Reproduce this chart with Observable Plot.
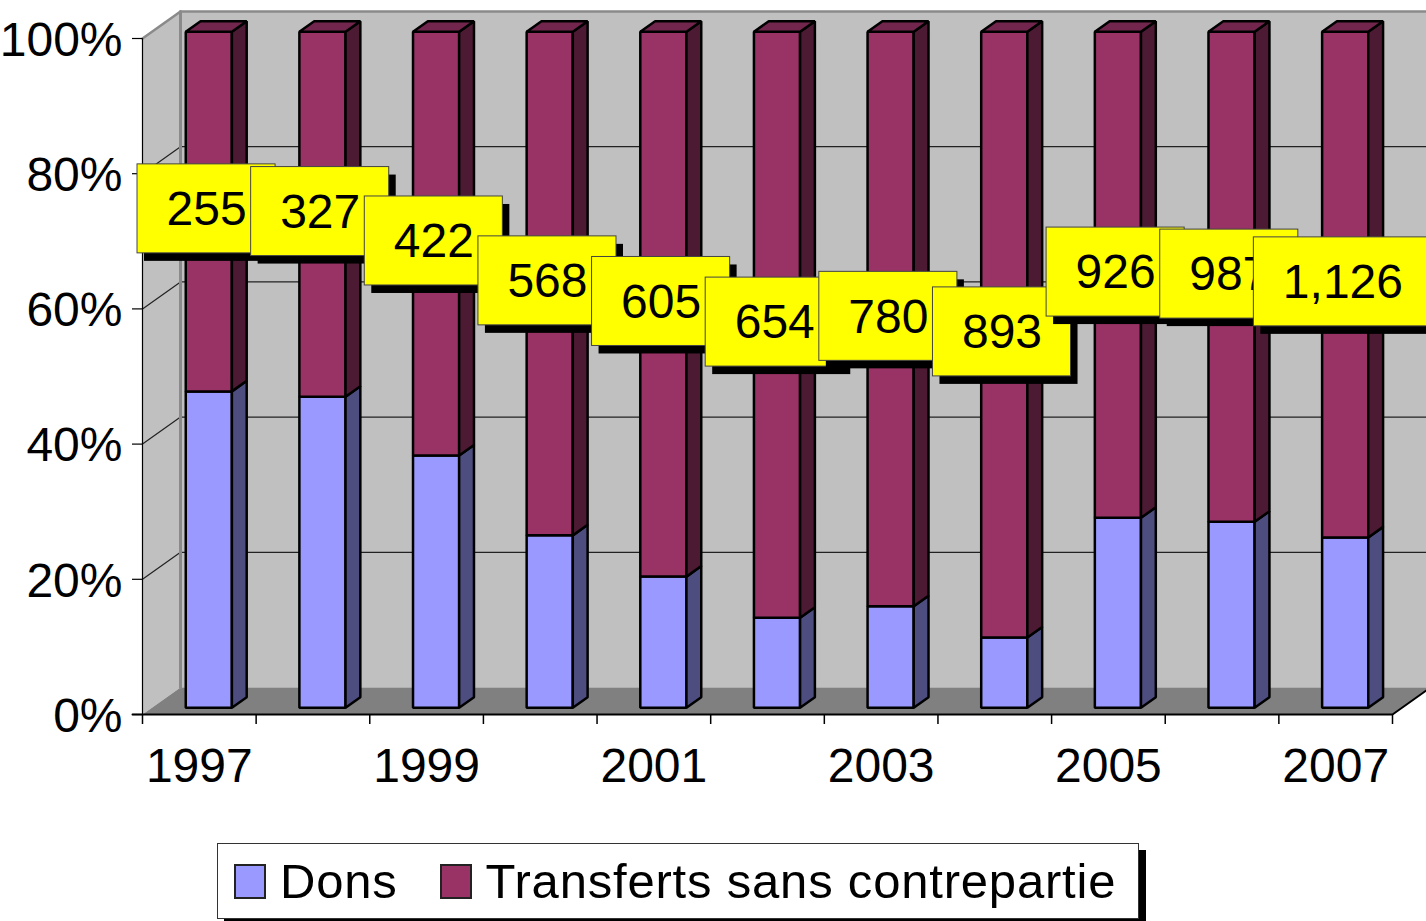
<!DOCTYPE html>
<html>
<head>
<meta charset="utf-8">
<script src="https://cdn.jsdelivr.net/npm/d3@7"></script>
<script src="https://cdn.jsdelivr.net/npm/@observablehq/plot@0.6"></script>
<style>
  html, body { margin: 0; padding: 0; background: #fff; overflow: hidden; width: 1426px; height: 921px; }
  #chart { position: absolute; left: 0; top: 0; }
  #legend {
    position: absolute; left: 217px; top: 843px; width: 922px; height: 76px;
    border: 1px solid #333; background: #fff; box-shadow: 7px 7px 0 #000;
    display: flex; align-items: center; box-sizing: border-box; padding-left: 16px;
    font-family: "Liberation Sans", Arial, sans-serif; font-size: 49px; letter-spacing: 0.8px; color: #000;
    white-space: nowrap; overflow: hidden;
  }
  .sw { width: 28px; height: 31px; border: 2px solid #222; margin-right: 14px; flex-shrink: 0; }
  .item { display: flex; align-items: center; margin-right: 42px; flex-shrink: 0; white-space: nowrap; }
</style>
</head>
<body>
<div id="chart"></div>
<div id="legend"></div>
<script>
// ---- Data ----
const years = [1997, 1998, 1999, 2000, 2001, 2002, 2003, 2004, 2005, 2006, 2007];
const dons = [46.8, 46.0, 37.3, 25.5, 19.4, 13.3, 15.0, 10.4, 28.1, 27.5, 25.2]; // % share
const totals = [255, 327, 422, 568, 605, 654, 780, 893, 926, 987, 1126];
const yTicks = [0, 20, 40, 60, 80, 100];
const xLabelYears = [1997, 1999, 2001, 2003, 2005, 2007];
const seriesNames = ["Dons", "Transferts sans contrepartie"];
const transferts = dons.map(d => 100 - d);

// ---- Layout / style constants ----
const W = 1426, H = 835, ML = 142, MR = 34, MT = 38, MB = 121;
const N = years.length;
const PX = (W - ML - MR) / N;      // px per category unit
const PY = (H - MT - MB) / 100;    // px per percent
const DX = 38 / PX, DY = 27 / PY;  // full depth offset in data units
const d0 = 0.25, d1 = 0.64;        // bar depth placement
const bl = 0.297, br = 0.703;      // bar extent within slot
const colors = {
  donsFront: "#9999ff", donsSide: "#4d4d80",
  trFront: "#993366", trSide: "#4d1a33", trTop: "#73264d",
  wall: "#c0c0c0", floor: "#808080"
};

function poly(id, pts) { return pts.map(([x, y]) => ({id, x, y})); }

// walls
const leftWall = poly("lw", [[0, 0], [DX, DY], [DX, 100 + DY], [0, 100]]);
const backWall = poly("bw", [[DX, DY], [N + DX, DY], [N + DX, 100 + DY], [DX, 100 + DY]]);
const floor = poly("fl", [[0, 0], [N, 0], [N + DX, DY], [DX, DY]]);

// bar faces
const donsFront = [], donsSide = [], trFront = [], trSide = [], trTop = [];
years.forEach((yr, i) => {
  const xl = i + bl, xr = i + br;
  const front = (lo, hi) => [[xl + d0 * DX, lo + d0 * DY], [xr + d0 * DX, lo + d0 * DY], [xr + d0 * DX, hi + d0 * DY], [xl + d0 * DX, hi + d0 * DY]];
  const side = (lo, hi) => [[xr + d0 * DX, lo + d0 * DY], [xr + d1 * DX, lo + d1 * DY], [xr + d1 * DX, hi + d1 * DY], [xr + d0 * DX, hi + d0 * DY]];
  const top = v => [[xl + d0 * DX, v + d0 * DY], [xr + d0 * DX, v + d0 * DY], [xr + d1 * DX, v + d1 * DY], [xl + d1 * DX, v + d1 * DY]];
  const dv = dons[i], tv = dv + transferts[i];
  donsFront.push(...poly("df" + i, front(0, dv)));
  donsSide.push(...poly("ds" + i, side(0, dv)));
  trFront.push(...poly("tf" + i, front(dv, tv)));
  trSide.push(...poly("ts" + i, side(dv, tv)));
  trTop.push(...poly("tt" + i, top(tv)));
});

const face = (data, fill, sw = 2.5) => Plot.line(data, {
  x: "x", y: "y", z: "id", fill, stroke: "#000", strokeWidth: sw,
  curve: "linear-closed", strokeLinejoin: "miter"
});

// grid lines on back wall and left wall
const grid = [];
[20, 40, 60, 80].forEach(v => {
  grid.push(...poly("g" + v, [[0, v], [DX, v + DY], [N + DX, v + DY]]));
});
const wallEdges = poly("we", [[0, 100], [DX, 100 + DY], [N + DX, 100 + DY]]);
const wallEdgeV = poly("wv", [[DX, DY], [DX, 100 + DY]]);

// data labels
const fmt = d3.format(",");
const charW = c => (c === "," ? 0.278 : 0.556) * 48;
const labelMarks = [];
years.forEach((yr, i) => {
  const text = fmt(totals[i]);
  const tw = [...text].reduce((s, c) => s + charW(c), 0);
  const hw = (tw / 2 + 29) / PX, hh = 44.5 / PY;
  const cx = i + 0.5 + d0 * DX - 0.02;
  const cy = (dons[i] + 100) / 2 + 0.35 * DY;
  const lab = [{cx, cy, text}];
  labelMarks.push(
    Plot.rect(lab, {x1: d => d.cx - hw, x2: d => d.cx + hw, y1: d => d.cy - hh, y2: d => d.cy + hh, fill: "#000", dx: 7, dy: 8}),
    Plot.rect(lab, {x1: d => d.cx - hw, x2: d => d.cx + hw, y1: d => d.cy - hh, y2: d => d.cy + hh, fill: "#ffff00", stroke: "#444", strokeWidth: 1}),
    Plot.text(lab, {x: "cx", y: "cy", text: "text", fontSize: 48, fill: "#000", dy: 1})
  );
});

const chart = Plot.plot({
  width: W, height: H,
  marginLeft: ML, marginRight: MR, marginTop: MT, marginBottom: MB,
  x: {domain: [0, N], axis: null},
  y: {domain: [0, 100], axis: null},
  style: {fontFamily: "'Liberation Sans', Arial, sans-serif", background: "#fff", overflow: "visible"},
  marks: [
    Plot.line(backWall, {x: "x", y: "y", z: "id", fill: colors.wall, stroke: "none", curve: "linear-closed"}),
    Plot.line(leftWall, {x: "x", y: "y", z: "id", fill: colors.wall, stroke: "none", curve: "linear-closed"}),
    Plot.line(floor, {x: "x", y: "y", z: "id", fill: colors.floor, stroke: "none", curve: "linear-closed"}),
    Plot.line(grid, {x: "x", y: "y", z: "id", stroke: "#222", strokeWidth: 1.2, strokeLinejoin: "miter"}),
    Plot.line(wallEdges, {x: "x", y: "y", z: "id", stroke: "#8a8a8a", strokeWidth: 2.5, strokeLinejoin: "miter"}),
    Plot.line(wallEdgeV, {x: "x", y: "y", z: "id", stroke: "#8a8a8a", strokeWidth: 3}),
    // bars
    face(donsFront, colors.donsFront),
    face(donsSide, colors.donsSide),
    face(trFront, colors.trFront),
    face(trSide, colors.trSide),
    face(trTop, colors.trTop),
    // axes
    Plot.line(poly("ya", [[0, 0], [0, 100]]), {x: "x", y: "y", stroke: "#000", strokeWidth: 1.2}),
    Plot.line(poly("xa", [[-10 / PX, 0], [N, 0], [N + DX, DY]]), {x: "x", y: "y", stroke: "#000", strokeWidth: 2, strokeLinejoin: "miter"}),
    Plot.ruleY(yTicks, {x1: -10 / PX, x2: 0, y: d => d, stroke: "#000", strokeWidth: 1.2}),
    Plot.ruleX(d3.range(N + 1), {x: d => d, y1: 0, y2: -10 / PY, stroke: "#000", strokeWidth: 1.5}),
    Plot.text(yTicks, {x: 0, y: d => d, dx: -20, dy: 2, textAnchor: "end", text: d => d + "%", fontSize: 48, fill: "#000"}),
    Plot.text(xLabelYears, {x: d => years.indexOf(d) + 0.5, y: 0, dy: 52, text: d => String(d), fontSize: 48, fill: "#000"}),
    ...labelMarks
  ]
});
document.getElementById("chart").appendChild(chart);

// legend
const legendColors = [colors.donsFront, colors.trFront];
const legend = document.getElementById("legend");
seriesNames.forEach((name, k) => {
  const item = document.createElement("div");
  item.className = "item";
  const sw = document.createElement("div");
  sw.className = "sw";
  sw.style.background = legendColors[k];
  const t = document.createElement("span");
  t.textContent = name;
  item.appendChild(sw); item.appendChild(t);
  legend.appendChild(item);
});
</script>
</body>
</html>
